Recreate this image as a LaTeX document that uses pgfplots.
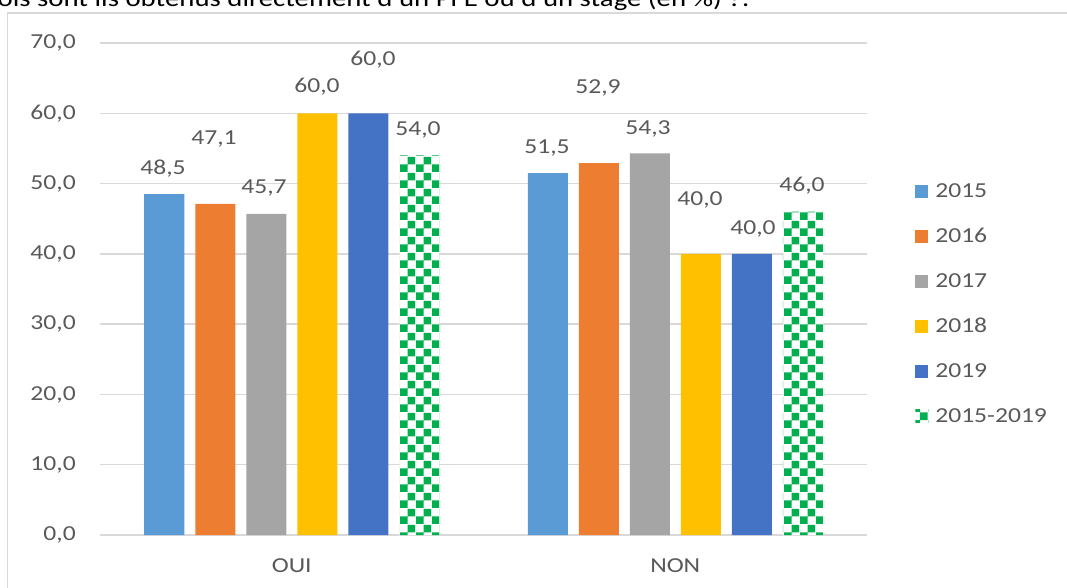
\documentclass[border=0pt]{standalone}
\usepackage{fontspec}
\setmainfont{Carlito}[FakeStretch=1.2]
\usepackage{pgfplots}
\pgfplotsset{compat=1.18}
\usetikzlibrary{patterns}

\definecolor{c2015}{HTML}{5B9BD5}
\definecolor{c2016}{HTML}{ED7D31}
\definecolor{c2017}{HTML}{A5A5A5}
\definecolor{c2018}{HTML}{FFC000}
\definecolor{c2019}{HTML}{4472C4}
\definecolor{cgreen}{HTML}{00B050}
\definecolor{gridc}{HTML}{D9D9D9}
\definecolor{labc}{HTML}{595959}

% checkerboard with 6pt squares (the default one is far too fine)
\pgfdeclarepatternformonly{checker}{\pgfpointorigin}{\pgfqpoint{12pt}{12pt}}{\pgfqpoint{12pt}{12pt}}{%
  \pgfpathrectangle{\pgfpointorigin}{\pgfqpoint{6pt}{6pt}}%
  \pgfpathrectangle{\pgfqpoint{6pt}{6pt}}{\pgfqpoint{6pt}{6pt}}%
  \pgfusepath{fill}}

\tikzset{lab/.style={font=\fontsize{16}{18}\selectfont, text=labc, inner sep=0pt,
    text height=10pt, text depth=0pt}}

\begin{document}
\begin{tikzpicture}
\useasboundingbox (0pt,0pt) rectangle (800.25pt,-440.25pt);
\clip (0pt,0pt) rectangle (800.25pt,-440.25pt);

% cut-off title and chart frame
\node[anchor=base west, inner sep=0pt, font=\fontsize{18}{20}\selectfont]
  at (-2pt,-5pt) {ois sont ils obtenus directement d’un PFE ou d’un stage (en \%) ?:};
\draw[gridc, line width=1.1pt] (5.6pt,-470pt) -- (5.6pt,-9.75pt) -- (830pt,-9.75pt);

\begin{axis}[
    at={(75pt,-401.25pt)}, anchor=south west,
    scale only axis, width=575.25pt, height=369pt,
    xmin=-0.5, xmax=1.5, ymin=0, ymax=70,
    ybar=8.25pt, bar width=30pt,
    xtick={0,1}, xticklabels={OUI,NON},
    ytick={0,10,...,70},
    ymajorgrids, grid style={gridc, line width=1.1pt},
    axis line style={draw=none},
    major tick length=0pt,
    clip=false,
    tick label style={font=\fontsize{16}{18}\selectfont, text=labc},
    xticklabel style={inner sep=0pt, anchor=north, yshift=-17.5pt},
    yticklabel style={inner sep=0pt, anchor=east, xshift=-18pt},
    /pgf/number format/fixed,
    /pgf/number format/fixed zerofill,
    /pgf/number format/precision=1,
    /pgf/number format/use comma,
    /pgf/number format/assume math mode=true,
    legend style={at={(1.0626,0.7134)}, anchor=north west, draw=none, fill=none,
        inner sep=0pt, row sep=23.75pt, column sep=5.25pt,
        font=\fontsize{16}{18}\selectfont, text=labc,
        nodes={inner sep=0pt, anchor=base west, text height=10pt, text depth=0pt}},
    legend image code/.code={\draw[#1, draw=none] (0pt,0pt) rectangle (9.75pt,9.75pt);},
]
\addplot[fill=c2015, draw=none] coordinates {(0,48.5) (1,51.5)};
\addplot[fill=c2016, draw=none] coordinates {(0,47.1) (1,52.9)};
\addplot[fill=c2017, draw=none] coordinates {(0,45.7) (1,54.3)};
\addplot[fill=c2018, draw=none] coordinates {(0,60.0) (1,40.0)};
\addplot[fill=c2019, draw=none] coordinates {(0,60.0) (1,40.0)};
\addplot[fill=white, draw=none, postaction={pattern=checker, pattern color=cgreen}]
    coordinates {(0,54.0) (1,46.0)};
\legend{2015,2016,2017,2018,2019,2015-2019}

% data labels, placed where the original chart had dragged them
\node[lab] at (axis cs:-0.3357,52.2) {48,5};
\node[lab] at (axis cs:-0.2027,56.5) {47,1};
\node[lab] at (axis cs:-0.0724,49.5) {45,7};
\node[lab] at (axis cs:0.0658,63.9) {60,0};
\node[lab] at (axis cs:0.2119,67.7) {60,0};
\node[lab] at (axis cs:0.3292,57.8) {54,0};
\node[lab] at (axis cs:0.6656,55.2) {51,5};
\node[lab] at (axis cs:0.7986,63.7) {52,9};
\node[lab] at (axis cs:0.9289,58.0) {54,3};
\node[lab] at (axis cs:1.0645,47.9) {40,0};
\node[lab] at (axis cs:1.2027,43.7) {40,0};
\node[lab] at (axis cs:1.3305,49.8) {46,0};
\end{axis}
\end{tikzpicture}
\end{document}
